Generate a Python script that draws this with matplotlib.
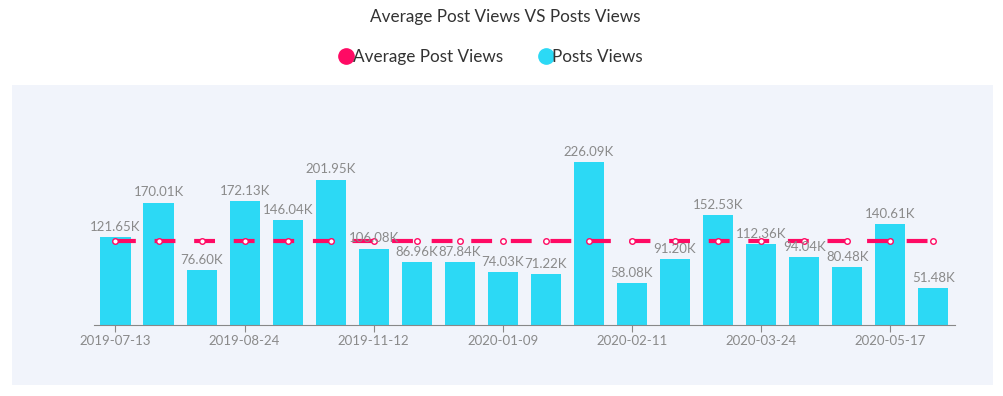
import numpy as np
import matplotlib.pyplot as plt
from matplotlib.patches import Rectangle
from matplotlib.lines import Line2D

plt.rcParams['font.family'] = ['Lato', 'DejaVu Sans']

# data
dates = ['2019-07-13', '', '', '2019-08-24', '', '', '2019-11-12', '', '', '2020-01-09',
         '', '', '2020-02-11', '', '', '2020-03-24', '', '', '2020-05-17', '']
views = [121.65, 170.01, 76.60, 172.13, 146.04, 201.95, 106.08, 86.96, 87.84, 74.03,
         71.22, 226.09, 58.08, 91.20, 152.53, 112.36, 94.04, 80.48, 140.61, 51.48]
views = np.array(views) * 1000
avg = np.full(len(views), views.mean())

bar_col = '#2cd9f5'
avg_col = '#ff0a64'
panel_col = '#f1f4fb'
txt_col = '#8a8a8a'

fig = plt.figure(figsize=(10.04, 3.96), dpi=100)
fig.patches.append(Rectangle((0.012, 0.028), 0.977, 0.758, transform=fig.transFigure,
                             facecolor=panel_col, edgecolor='none', zorder=-1))

ax = fig.add_axes([0.0936, 0.1793, 0.8574, 0.4545])
ax.set_zorder(1)
ax.set_facecolor(panel_col)
x = np.arange(len(views))
ax.bar(x, views, width=0.7, color=bar_col, zorder=2)
for xi, v in zip(x, views):
    ax.annotate('%.2fK' % (v / 1000), (xi, v), xytext=(0, 3), textcoords='offset points',
                ha='center', va='bottom', fontsize=9.5, color=txt_col, zorder=4)

ax.plot(x, avg, color=avg_col, lw=3, dashes=(5, 4.5), marker='o', markersize=4,
        markerfacecolor='white', markeredgecolor=avg_col, markeredgewidth=1, zorder=3)

ax.set_xlim(-0.5, len(views) - 0.5)
ax.set_ylim(0, 250000)
ticks = [i for i, d in enumerate(dates) if d]
ax.set_xticks(ticks)
ax.set_xticklabels([dates[i] for i in ticks], fontsize=9.5, color=txt_col)
ax.tick_params(axis='x', length=5, color='#888888', pad=2)
ax.set_yticks([])
for s in ['top', 'right', 'left']:
    ax.spines[s].set_visible(False)
ax.spines['bottom'].set_color('#888888')

fig.text(0.503, 1 - 17 / 396, 'Average Post Views VS Posts Views', ha='center', va='center',
         fontsize=12.3, color='#333333')

handles = [Line2D([], [], ls='none', marker='o', markersize=11, color=avg_col),
           Line2D([], [], ls='none', marker='o', markersize=11, color=bar_col)]
fig.legend(handles, ['Average Post Views', 'Posts Views'], loc='center',
           bbox_to_anchor=(0.49, 1 - 57 / 396), ncol=2, frameon=False, fontsize=12.3,
           handlelength=0.6, handletextpad=0.1, columnspacing=2.2, labelcolor='#333333')

fig.savefig('out.png', dpi=100)
